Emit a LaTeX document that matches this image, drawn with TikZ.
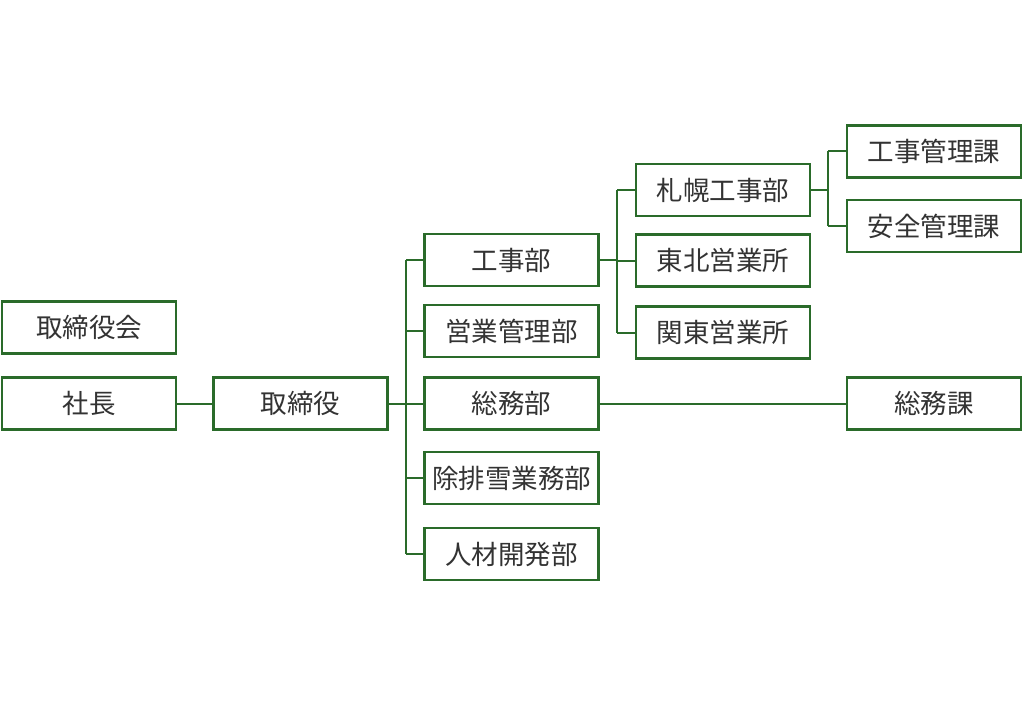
\documentclass[tikz,border=0pt]{standalone}
\usepackage{fontspec}
\newfontfamily\cjk{Noto Sans CJK JP}
\definecolor{boxgreen}{HTML}{2A6B2A}
\begin{document}
\begin{tikzpicture}[x=1pt,y=-1pt,
  org/.style={draw=boxgreen,line width=2.8pt,fill=white,minimum width=174pt,minimum height=52pt,inner sep=0pt,font=\cjk\fontsize{26.5}{30}\selectfont,text=black!80},
  link/.style={draw=boxgreen,line width=2pt}]
\useasboundingbox (0,0) rectangle (1024,703);
\node[org] (torikai) at (89,327.5) {取締役会};
\node[org] (shacho) at (89,403.5) {社長};
\node[org] (tori) at (300.5,403.5) {取締役};
\node[org] (kouji) at (511.5,260) {工事部};
\node[org] (eigyo) at (511.5,331) {営業管理部};
\node[org] (soumu) at (511.5,403.5) {総務部};
\node[org] (jyo) at (511.5,478) {除排雪業務部};
\node[org] (jinzai) at (511.5,554) {人材開発部};
\node[org] (sapporo) at (723,190) {札幌工事部};
\node[org] (tohoku) at (723,260.5) {東北営業所};
\node[org] (kanto) at (723,332.5) {関東営業所};
\node[org] (kanri) at (934,151.5) {工事管理課};
\node[org] (anzen) at (934,226) {安全管理課};
\node[org] (soumuka) at (934,403.5) {総務課};
\coordinate (b1) at (406,0);
\coordinate (b2) at (617,0);
\coordinate (b3) at (828,0);
\draw[link] (shacho.east) -- (tori.west);
\draw[link] (tori.east) -- (tori.east -| b1);
\foreach \n in {kouji,eigyo,soumu,jyo,jinzai} \draw[link] (\n.west) -- (\n.west -| b1);
\draw[link] (kouji.west -| b1) -- (jinzai.west -| b1);
\draw[link] (kouji.east) -- (kouji.east -| b2);
\foreach \n in {sapporo,tohoku,kanto} \draw[link] (\n.west) -- (\n.west -| b2);
\draw[link] (sapporo.west -| b2) -- (kanto.west -| b2);
\draw[link] (sapporo.east) -- (sapporo.east -| b3);
\foreach \n in {kanri,anzen} \draw[link] (\n.west) -- (\n.west -| b3);
\draw[link] (kanri.west -| b3) -- (anzen.west -| b3);
\draw[link] (soumu.east) -- (soumuka.west);
\end{tikzpicture}
\end{document}
